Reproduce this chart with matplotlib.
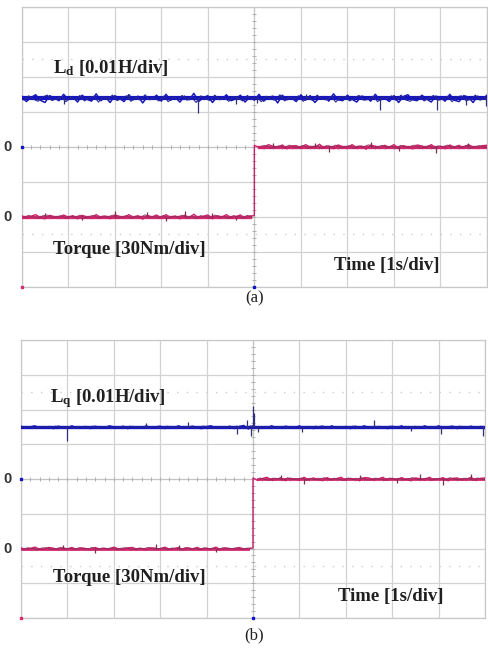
import numpy as np
import matplotlib
matplotlib.use("Agg")
import matplotlib.pyplot as plt

plt.rcParams["mathtext.fontset"] = "custom"
plt.rcParams["mathtext.rm"] = "Liberation Serif:bold"
plt.rcParams["mathtext.it"] = "Liberation Serif:bold:italic"

# oscilloscope traces, values in divisions (hundredths for the ripple lists)
ld_a_level = 1.38
ld_a_ripple = [5, -7, 2, 8, -4, -9, 6, 1, -5, 9,
               -3, 4, -8, 7, -2, -6, 10, -5, 3, -9,
               6, 0, -7, 8, -3, 5, -10, 4, -1, 7,
               -6, 9, -4, 2, -8, 5, -3, 11, -7, 1,
               6, -9, 4, -2, 8, -5, -1, 7, -8, 3,
               -4, 9, -6, 2, 5, -10, 7, -3, 1, -7,
               8, -4, 6, -9, 2, 4, -6, 10, -3, -5,
               7, -2, -8, 5, 3, -6, 9, -4, 1, -7,
               6, -9, 4, 8, -3, -5, 7, -1, -8, 5,
               2, -6, 9, -4, -7, 6, 3, -9, 5, -2,
               7]
ld_a_spike_t = [0.9, 2.3, 3.78, 4.6, 5.05, 6.1, 7.69, 8.93, 9.55, 9.98]
ld_a_spike = [-0.15, 0.12, -0.42, -0.15, -0.12, 0.14, -0.33, -0.32, -0.2, -0.22]

tq_a_low, tq_a_high = -2.0, 0.0
tq_a_before = [3, -5, 1, 6, -3, -6, 4, 0, -4, 5,
               -2, 3, -6, 4, -1, -5, 6, -3, 2, -6,
               5, 1, -4, 6, -2, 3, -7, 4, -1, 5,
               -5, 6, -2, 2, -6, 4, -3, 7, -4, 1,
               5, -6, 3, -1, 6, -4, 0, 5, -5, 2, 3]
tq_a_after = [4, -2, -5, 6, 1, -4, 5, -6, 2, 3,
              -5, 6, -1, -3, 7, -4, 2, -6, 5, 0,
              -4, 6, -3, 2, -7, 5, 1, -5, 4, -2,
              6, -5, 3, -1, -6, 5, 2, -4, 6, -3,
              1, -6, 5, -2, 4, -5, 6, -1, -4, 3, 4]
tq_a_spike_t = [0.5, 1.3, 2.0, 2.7, 3.1, 3.5, 4.1, 4.6, 5.4, 6.3, 6.6, 7.5, 8.1, 8.9, 9.6]
tq_a_spike = [0.12, -0.1, 0.15, 0.14, -0.12, 0.16, 0.12, -0.1,
              0.1, 0.12, -0.15, 0.14, -0.12, -0.18, 0.1]

lq_b_level = 1.49
lq_b_ripple = [3, -2, 1, 4, -3, -1, 2, -4, 3, 0,
               -2, 4, -3, 1, 2, -4, 3, -1, -3, 4,
               1, -2, 3, -4, 2, 0, -3, 4, -2, 1,
               3, -4, 2, -1, 4, -3, 0, 3, -2, -4,
               2, 4, -3, 1, -2, 3, -4, 2, 5, -5,
               4, -3, 1, -2, 4, -1, -3, 3, 0, -2,
               4, -3, 2, -4, 1, 3, -2, 4, -3, 0,
               2, -4, 3, -1, 4, -2, -3, 2, 1, -4,
               3, -2, 4, -3, 0, 2, -3, 4, -1, -3,
               4, -2, 1, 3, -4, 2, -1, 3, -3, 2,
               1]
lq_b_spike_t = [1.0, 2.7, 3.6, 4.65, 4.88, 4.95, 5.0, 5.03, 5.1, 6.05, 7.6, 8.4, 9.05, 9.95]
lq_b_spike = [-0.4, 0.12, 0.15, -0.2, 0.22, -0.25, 0.6, 0.4, -0.15, -0.15, 0.2, -0.12, -0.2, -0.25]

tq_b_low, tq_b_high = -2.0, 0.0
tq_b_before = [2, -3, 0, 4, -2, -3, 3, 1, -4, 2,
               -1, 3, -3, 2, 0, -4, 3, -2, 1, -3,
               4, -1, -3, 2, 3, -2, 0, -4, 2, 1,
               -3, 4, -2, 0, 3, -4, 2, -1, 3, -3,
               1, -2, 4, -3, 2, 0, -3, 3, -1, -2, 2]
tq_b_after = [3, -4, 1, 5, -3, -2, 4, -5, 2, 0,
              -4, 5, -2, 3, -1, -5, 4, -3, 1, 5,
              -4, 2, -1, -5, 4, 3, -3, 0, 5, -4,
              2, -3, 4, -1, -5, 3, 1, -4, 5, -2,
              0, 4, -5, 2, 3, -3, -1, 5, -4, 2, 3]
tq_b_spike_t = [0.9, 1.6, 2.9, 3.4, 4.2, 5.6, 6.1, 7.3, 8.1, 8.6, 9.1, 9.7]
tq_b_spike = [0.1, -0.12, 0.14, 0.1, -0.1, 0.12, -0.14, 0.12, -0.12, 0.14, -0.18, 0.15]

panels = [
    dict(rect=[0.0444, 0.5589, 0.9515, 0.4308], name=r"L$_{\mathrm{d}}$ [0.01H/div]",
         level=ld_a_level, ripple=ld_a_ripple, st=ld_a_spike_t, sa=ld_a_spike,
         low=tq_a_low, high=tq_a_high, before=tq_a_before, after=tq_a_after,
         tst=tq_a_spike_t, tsa=tq_a_spike, gain=1.3, band=3.0, tband=2.4,
         name_xy=(0.67, 2.11), tq_xy=(0.67, -3.07), time_xy=(6.72, -3.52),
         tag="(a)", tag_y=0.541),
    dict(rect=[0.0429, 0.0492, 0.9489, 0.4277], name=r"L$_{\mathrm{q}}$ [0.01H/div]",
         level=lq_b_level, ripple=lq_b_ripple, st=lq_b_spike_t, sa=lq_b_spike,
         low=tq_b_low, high=tq_b_high, before=tq_b_before, after=tq_b_after,
         tst=tq_b_spike_t, tsa=tq_b_spike, gain=1.0, band=2.4, tband=2.0,
         name_xy=(0.62, 2.22), tq_xy=(0.69, -2.97), time_xy=(6.83, -3.51),
         tag="(b)", tag_y=0.023),
]

blue, pink = "#1414c4", "#d42a6e"
serif = "Liberation Serif"

fig = plt.figure(figsize=(4.89, 6.5), dpi=100)

for p in panels:
    ax = fig.add_axes(p["rect"])
    ax.set_xlim(0, 10)
    ax.set_ylim(-4, 4)
    ax.set_xticks(np.arange(0, 11))
    ax.set_yticks(np.arange(-4, 5))
    ax.tick_params(length=0, labelleft=False, labelbottom=False)
    ax.grid(True, color="#d2d2d2", lw=0.9)
    for s in ax.spines.values():
        s.set_color("#c8c8c8")
        s.set_linewidth(0.9)

    # graticule centre lines with small division marks, and cursor lines
    ax.axhline(0, color="#c4c4c4", lw=0.8)
    ax.axvline(5, color="#c4c4c4", lw=0.8)
    mt = np.arange(0, 10.01, 0.2)
    ax.plot(mt, np.zeros_like(mt), "|", ms=2.5, color="#b0b0b0", mew=0.7)
    mv = np.arange(-4, 4.01, 0.2)
    ax.plot(np.full_like(mv, 5), mv, "_", ms=2.5, color="#b0b0b0", mew=0.7)
    for yc in (2.5, -2.5):
        ax.axhline(yc, color="#cccccc", lw=1, ls=(0, (1, 6)))

    # inductance trace
    g = p["gain"]
    r = np.array(p["ripple"]) / 100.0 * g
    t = np.linspace(0, 10, len(r))
    ax.plot(t, np.full_like(t, p["level"]), color=blue, lw=p["band"], zorder=3)
    ax.plot(t, p["level"] + r, color="#1818b4", lw=1.1, zorder=3)
    ax.plot(t + 0.05, p["level"] - 0.8 * r, color="#262696", lw=0.8, zorder=3)
    ax.vlines(p["st"], p["level"], p["level"] + np.array(p["sa"]),
              color="#30307a", lw=0.9, zorder=3)

    # torque step
    b = np.array(p["before"]) / 100.0
    a = np.array(p["after"]) / 100.0
    tb = np.linspace(0, 5, len(b))
    ta = np.linspace(5, 10, len(a))
    ax.plot(tb[:-1], np.full_like(tb[:-1], p["low"]), color=pink, lw=p["tband"], zorder=3)
    ax.plot(ta[1:], np.full_like(ta[1:], p["high"]), color=pink, lw=p["tband"], zorder=3)
    tt = np.concatenate([tb, ta])
    yy = np.concatenate([p["low"] + b, p["high"] + a])
    ax.plot(tt, yy, color="#c8226a", lw=1.0, zorder=3)
    ax.plot(tb[:-1] + 0.05, p["low"] - 0.8 * b[:-1], color="#8a3058", lw=0.6, zorder=3)
    ax.plot(ta[1:] + 0.05, p["high"] - 0.8 * a[1:], color="#8a3058", lw=0.6, zorder=3)
    tst = np.array(p["tst"])
    base = np.where(tst < 5, p["low"], p["high"])
    ax.vlines(tst, base, base + np.array(p["tsa"]), color="#7a3050", lw=0.9, zorder=3)

    # channel markers
    ax.plot(0, 0, marker="s", ms=2, color=blue, clip_on=False, zorder=4)
    ax.plot(0, -4, marker="s", ms=2, color=pink, clip_on=False, zorder=4)
    ax.plot(5, -4, marker="s", ms=2, color=blue, clip_on=False, zorder=4)
    for yl in (0, p["low"]):
        ax.text(-0.03, yl, "0", transform=ax.get_yaxis_transform(),
                ha="center", va="center", fontsize=10.5, color="#333333",
                family="Liberation Sans", fontweight="bold")

    ax.text(*p["name_xy"], p["name"], family=serif, fontweight="bold",
            fontsize=13.5, color="#202020", va="baseline")
    ax.text(*p["tq_xy"], "Torque [30Nm/div]", family=serif, fontweight="bold",
            fontsize=13.5, color="#202020", va="baseline")
    ax.text(*p["time_xy"], "Time [1s/div]", family=serif, fontweight="bold",
            fontsize=13.5, color="#202020", va="baseline")
    fig.text(0.52, p["tag_y"], p["tag"], family=serif, fontsize=12,
             ha="center", va="center", color="#202020")

fig.savefig("out.png", dpi=100)
